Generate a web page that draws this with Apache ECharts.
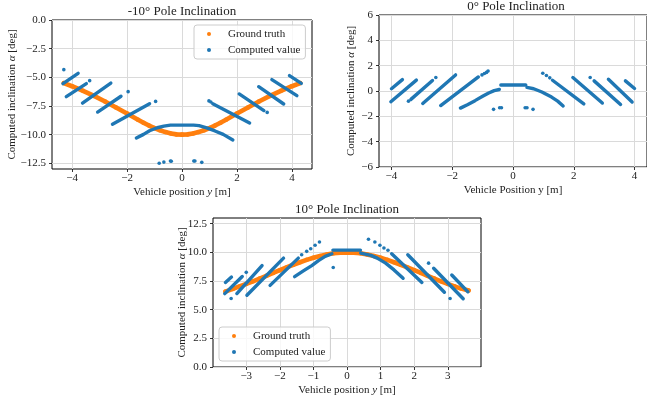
<!DOCTYPE html>
<html>
<head>
<meta charset="utf-8">
<title>Pole Inclination</title>
<script src="https://cdn.jsdelivr.net/npm/echarts@6/dist/echarts.min.js"></script>
<style>
    html, body {margin: 0; padding: 0; background: #fff;}
    #chart {width: 647px; height: 401px;}
</style>
</head>
<body>
<div id="chart"></div>
<script>
/* 数据: [车辆位置 y (m), 倾角 α (deg)] */

// -10° 图
var negTruth = [[-4.3, -5.50], [-4.0, -5.78], [-3.6, -6.18], [-3.2, -6.62], [-2.8, -7.11], [-2.4, -7.63],
    [-2.0, -8.16], [-1.6, -8.70], [-1.4, -8.96], [-1.2, -9.21], [-1.0, -9.43], [-0.8, -9.62], [-0.6, -9.78],
    [-0.4, -9.90], [-0.2, -9.98], [0, -10.0], [0.2, -9.98], [0.4, -9.90], [0.6, -9.78], [0.8, -9.62],
    [1.0, -9.43], [1.2, -9.21], [1.4, -8.96], [1.6, -8.70], [2.0, -8.16], [2.4, -7.63], [2.8, -7.11],
    [3.2, -6.62], [3.6, -6.18], [4.0, -5.78], [4.3, -5.50]];
var negStripes = [
    [[-4.33, -5.55], [-3.78, -4.65]],
    [[-4.21, -6.69], [-3.48, -5.55]],
    [[-3.62, -7.25], [-2.59, -5.50]],
    [[-3.07, -8.03], [-2.22, -6.65]],
    [[-2.53, -9.09], [-1.18, -7.30]],
    [[-1.66, -10.30], [-1.40, -9.98], [-1.18, -9.66], [-0.90, -9.40], [-0.66, -9.26], [-0.42, -9.17],
        [0.42, -9.17], [0.62, -9.22], [0.90, -9.42], [1.20, -9.68], [1.50, -9.98], [1.85, -10.47]],
    [[1.12, -7.30], [2.46, -8.98]],
    [[2.08, -6.45], [2.98, -7.90]],
    [[2.79, -5.82], [3.70, -7.33]],
    [[3.27, -5.20], [4.18, -6.60]],
    [[3.91, -4.85], [4.34, -5.53]]
];
var negDots = [[-4.30, -4.33], [-3.36, -5.29], [-1.96, -6.25], [-0.96, -7.10], [0.98, -7.06], [1.05, -7.16],
    [3.10, -8.06], [-0.83, -12.50], [-0.66, -12.40], [-0.42, -12.30], [-0.39, -12.32], [0.43, -12.30],
    [0.47, -12.30], [0.72, -12.42]];

// 0° 图
var zeroStripes = [
    [[-4.00, 0.18], [-3.64, 0.90]],
    [[-4.02, -0.85], [-3.18, 0.86]],
    [[-3.36, -0.66], [-2.65, 0.83]],
    [[-2.97, -0.98], [-1.89, 1.27]],
    [[-2.38, -1.15], [-1.14, 1.11]],
    [[-1.73, -1.35], [-1.50, -1.08], [-1.25, -0.76], [-1.00, -0.42], [-0.80, -0.16], [-0.62, 0.03], [-0.45, 0.12]],
    [[-0.40, 0.47], [0.42, 0.47]],
    [[0.46, 0.28], [0.68, 0.18], [0.95, -0.08], [1.27, -0.48], [1.47, -0.80], [1.65, -1.18]],
    [[1.30, 0.85], [2.33, -1.02]],
    [[1.97, 1.06], [2.94, -0.95]],
    [[2.67, 0.80], [3.54, -1.06]],
    [[3.14, 0.93], [3.92, -0.87]],
    [[3.70, 0.80], [4.00, 0.20]]
];
var zeroDots = [[-3.44, -0.80], [-2.54, 1.07], [-1.02, 1.27], [-0.94, 1.38], [-0.87, 1.47], [-0.82, 1.58],
    [0.98, 1.40], [1.10, 1.22], [1.21, 1.04], [2.54, 1.06], [-0.64, -1.45], [-0.44, -1.32], [-0.38, -1.32],
    [0.40, -1.32], [0.46, -1.32], [0.66, -1.45]];

// 10° 图
var posTruth = [[-3.62, 6.58], [-3.4, 6.81], [-3.2, 7.03], [-3.0, 7.25], [-2.8, 7.48], [-2.6, 7.72], [-2.4, 7.96],
    [-2.2, 8.21], [-2.0, 8.45], [-1.8, 8.69], [-1.6, 8.92], [-1.4, 9.14], [-1.2, 9.35], [-1.0, 9.53],
    [-0.8, 9.69], [-0.6, 9.82], [-0.4, 9.92], [-0.2, 9.98], [0, 10.0], [0.2, 9.98], [0.4, 9.92], [0.6, 9.82],
    [0.8, 9.69], [1.0, 9.53], [1.2, 9.35], [1.4, 9.14], [1.6, 8.92], [1.8, 8.69], [2.0, 8.45], [2.2, 8.21],
    [2.4, 7.96], [2.6, 7.72], [2.8, 7.48], [3.0, 7.25], [3.2, 7.04], [3.4, 6.84], [3.62, 6.68]];
var posStripes = [
    [[-3.62, 7.38], [-3.44, 7.85]],
    [[-3.64, 6.40], [-3.12, 7.90]],
    [[-3.28, 6.41], [-2.53, 8.85]],
    [[-2.98, 6.26], [-1.89, 9.50]],
    [[-2.29, 7.12], [-1.45, 9.50]],
    [[-1.56, 7.88], [-1.30, 8.38], [-1.05, 8.85], [-0.85, 9.28], [-0.65, 9.65], [-0.45, 9.88]],
    [[-0.42, 10.20], [0.40, 10.20]],
    [[0.41, 9.94], [0.71, 9.74], [0.90, 9.50], [1.15, 9.06], [1.40, 8.47], [1.67, 7.74]],
    [[1.33, 9.88], [2.23, 7.38]],
    [[1.81, 9.79], [2.90, 6.52]],
    [[2.58, 8.62], [3.46, 5.95]],
    [[3.12, 8.03], [3.60, 6.56]]
];
var posDots = [[-3.45, 5.97], [-3.00, 8.26], [-1.35, 9.79], [-1.20, 10.09], [-1.08, 10.32], [-0.95, 10.62],
    [-0.82, 10.91], [-0.41, 8.68], [0.64, 11.15], [0.83, 10.91], [0.98, 10.62], [1.10, 10.38], [1.22, 10.18],
    [2.43, 9.06], [3.07, 5.97]];

// 刻度
var negXTicks = [-4, -2, 0, 2, 4];
var negYTicks = [-12.5, -10, -7.5, -5, -2.5, 0];
var zeroXTicks = [-4, -2, 0, 2, 4];
var zeroYTicks = [-6, -4, -2, 0, 2, 4, 6];
var posXTicks = [-3, -2, -1, 0, 1, 2, 3];
var posYTicks = [0, 2.5, 5, 7.5, 10, 12.5];

var BLUE = '#1f77b4';
var ORANGE = '#ff7f0e';
var FONT = 'Liberation Serif';
var TEXT = '#222';

function fmt(dec) {
    return function (v) {
        return (v < 0 ? '\u2212' : '') + Math.abs(v).toFixed(dec);
    };
}

function nameStyle() {
    return {
        fontFamily: FONT, fontSize: 11, color: TEXT,
        rich: {i: {fontFamily: FONT, fontSize: 11, fontStyle: 'italic', color: TEXT}}
    };
}

function makeAxis(dim, gi, min, max, ticks, dec, name, gap) {
    return {
        type: 'value',
        gridIndex: gi,
        position: dim === 'x' ? 'bottom' : 'left',
        min: min,
        max: max,
        name: name,
        nameLocation: 'middle',
        nameGap: gap,
        nameMoveOverlap: false,
        nameTextStyle: nameStyle(),
        axisLine: {show: false, onZero: false},
        axisTick: {show: true, length: 3, customValues: ticks, lineStyle: {color: '#000', width: 0.8}},
        axisLabel: {customValues: ticks, formatter: fmt(dec), margin: dim === 'x' ? 4 : 6,
            fontFamily: FONT, fontSize: 11, color: TEXT},
        splitLine: {show: true, lineStyle: {color: '#dadada', width: 1}}
    };
}

var series = [];

function addPlot(gi, truth, stripes, dots) {
    // 散点系列放在前面, 图例图标用圆点
    if (truth) {
        series.push({
            type: 'scatter', name: 'Ground truth', xAxisIndex: gi, yAxisIndex: gi,
            data: truth, symbolSize: 4.5, itemStyle: {color: ORANGE, opacity: 1}, silent: true, z: 2
        });
        series.push({
            type: 'line', name: 'Ground truth', xAxisIndex: gi, yAxisIndex: gi,
            data: truth, symbol: 'none', color: ORANGE,
            lineStyle: {color: ORANGE, width: 4.6, cap: 'round', join: 'round'}, silent: true, z: 2
        });
    }
    series.push({
        type: 'scatter', name: 'Computed value', xAxisIndex: gi, yAxisIndex: gi,
        data: dots, symbolSize: 3.6, itemStyle: {color: BLUE, opacity: 1}, silent: true, z: 3
    });
    stripes.forEach(function (s) {
        series.push({
            type: 'line', name: 'Computed value', xAxisIndex: gi, yAxisIndex: gi,
            data: s, symbol: 'none', color: BLUE,
            lineStyle: {color: BLUE, width: 3.4, cap: 'round', join: 'round'}, silent: true, z: 3
        });
    });
}

addPlot(0, negTruth, negStripes, negDots);
addPlot(1, null, zeroStripes, zeroDots);
addPlot(2, posTruth, posStripes, posDots);

function legendAt(left, top) {
    return {
        left: left, top: top, orient: 'vertical',
        data: [{name: 'Ground truth', icon: 'circle'}, {name: 'Computed value', icon: 'circle'}],
        itemWidth: 28, itemHeight: 4, itemGap: 4,
        padding: [3, 5, 3, 13],
        borderColor: '#ccc', borderWidth: 1, borderRadius: 3,
        backgroundColor: 'rgba(255,255,255,0.8)',
        selectedMode: false,
        textStyle: {fontFamily: FONT, fontSize: 11, color: TEXT, lineHeight: 12}
    };
}

function titleAt(text, x, y) {
    return {
        text: text, left: x, top: y, textAlign: 'center', padding: 0,
        textStyle: {fontFamily: FONT, fontSize: 13, fontWeight: 'normal', color: TEXT}
    };
}

var gridBase = {show: true, borderColor: '#000', borderWidth: 1, backgroundColor: 'transparent'};

var option = {
    animation: false,
    backgroundColor: '#fff',
    title: [
        titleAt('-10° Pole Inclination', 182, 5),
        titleAt('0° Pole Inclination', 516, 0),
        titleAt('10° Pole Inclination', 347, 203)
    ],
    legend: [legendAt(194, 25), legendAt(219, 327)],
    grid: [
        Object.assign({left: 52, top: 20, width: 260, height: 149}, gridBase),
        Object.assign({left: 379, top: 15, width: 273, height: 152}, gridBase),
        Object.assign({left: 213, top: 218, width: 268, height: 149}, gridBase)
    ],
    xAxis: [
        makeAxis('x', 0, -4.73, 4.73, negXTicks, 0, 'Vehicle position {i|y} [m]', 18),
        makeAxis('x', 1, -4.41, 4.41, zeroXTicks, 0, 'Vehicle Position y [m]', 18),
        makeAxis('x', 2, -3.99, 3.99, posXTicks, 0, 'Vehicle position {i|y} [m]', 18)
    ],
    yAxis: [
        makeAxis('y', 0, -13, 0, negYTicks, 1, 'Computed inclination {i|α} [deg]', 34),
        makeAxis('y', 1, -6, 6, zeroYTicks, 0, 'Computed inclination {i|α} [deg]', 22),
        makeAxis('y', 2, 0, 13, posYTicks, 1, 'Computed inclination {i|α} [deg]', 25)
    ],
    series: series
};

var myChart = echarts.init(document.getElementById('chart'));
myChart.setOption(option);
</script>
</body>
</html>
